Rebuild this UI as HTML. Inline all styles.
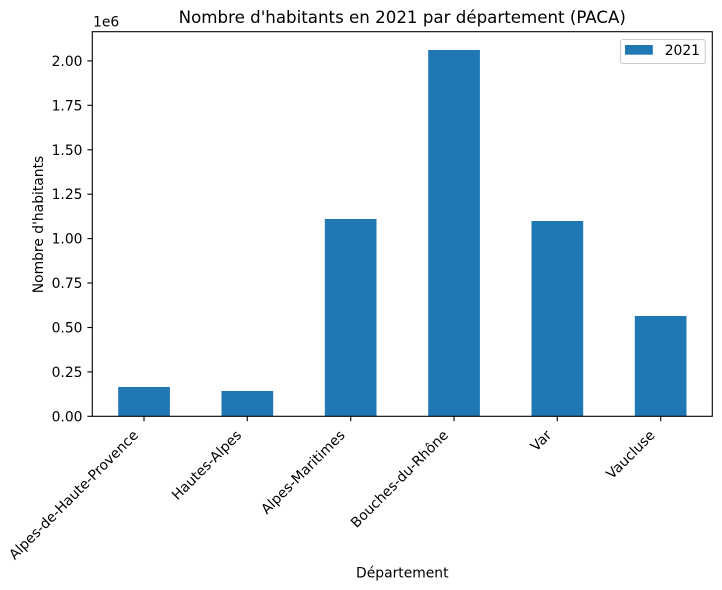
<!DOCTYPE html>
<html>
<head>
<meta charset="utf-8">
<style>
  html, body { margin: 0; padding: 0; background: #ffffff; }
  svg { display: block; font-family: "DejaVu Sans", "Liberation Sans", sans-serif; }
</style>
</head>
<body>
<svg width="722" height="590" viewBox="0 0 722 590" xmlns="http://www.w3.org/2000/svg">
  <rect x="0" y="0" width="722" height="590" fill="#ffffff"/>

  <!-- Title -->
  <text x="402.3" y="23" font-size="16.67" text-anchor="middle" fill="#000">Nombre d'habitants en 2021 par département (PACA)</text>

  <!-- Bars -->
  <g fill="#1f77b4">
    <rect x="118.2" y="387.0" width="51.7" height="29.3"/>
    <rect x="221.5" y="391.0" width="51.7" height="25.3"/>
    <rect x="324.8" y="219.0" width="51.7" height="197.3"/>
    <rect x="428.2" y="50.0" width="51.7" height="366.3"/>
    <rect x="531.5" y="221.0" width="51.7" height="195.3"/>
    <rect x="634.8" y="316.0" width="51.7" height="100.3"/>
  </g>

  <!-- Spines -->
  <rect x="92.3" y="31.7" width="620" height="384.6" fill="none" stroke="#000" stroke-width="1.1"/>

  <!-- Y ticks -->
  <g stroke="#000" stroke-width="1.1">
    <line x1="87.4" y1="416.3" x2="92.3" y2="416.3"/>
    <line x1="87.4" y1="371.9" x2="92.3" y2="371.9"/>
    <line x1="87.4" y1="327.5" x2="92.3" y2="327.5"/>
    <line x1="87.4" y1="283.0" x2="92.3" y2="283.0"/>
    <line x1="87.4" y1="238.6" x2="92.3" y2="238.6"/>
    <line x1="87.4" y1="194.2" x2="92.3" y2="194.2"/>
    <line x1="87.4" y1="149.8" x2="92.3" y2="149.8"/>
    <line x1="87.4" y1="105.3" x2="92.3" y2="105.3"/>
    <line x1="87.4" y1="60.9" x2="92.3" y2="60.9"/>
  </g>
  <g font-size="13.89" text-anchor="end" fill="#000">
    <text x="82.5" y="421.3">0.00</text>
    <text x="82.5" y="376.9">0.25</text>
    <text x="82.5" y="332.5">0.50</text>
    <text x="82.5" y="288.0">0.75</text>
    <text x="82.5" y="243.6">1.00</text>
    <text x="82.5" y="199.2">1.25</text>
    <text x="82.5" y="154.8">1.50</text>
    <text x="82.5" y="110.3">1.75</text>
    <text x="82.5" y="65.9">2.00</text>
  </g>
  <text x="93" y="26.5" font-size="13.89" fill="#000">1e6</text>

  <!-- Y label -->
  <text transform="translate(43,224.5) rotate(-90)" font-size="13.89" text-anchor="middle" fill="#000">Nombre d'habitants</text>

  <!-- X ticks -->
  <g stroke="#000" stroke-width="1.1">
    <line x1="144.0" y1="416.3" x2="144.0" y2="421.2"/>
    <line x1="247.3" y1="416.3" x2="247.3" y2="421.2"/>
    <line x1="350.7" y1="416.3" x2="350.7" y2="421.2"/>
    <line x1="454.0" y1="416.3" x2="454.0" y2="421.2"/>
    <line x1="557.3" y1="416.3" x2="557.3" y2="421.2"/>
    <line x1="660.7" y1="416.3" x2="660.7" y2="421.2"/>
  </g>
  <g font-size="13.89" text-anchor="end" fill="#000">
    <text transform="translate(139.0,436) rotate(-45)">Alpes-de-Haute-Provence</text>
    <text transform="translate(242.3,436) rotate(-45)">Hautes-Alpes</text>
    <text transform="translate(345.7,436) rotate(-45)">Alpes-Maritimes</text>
    <text transform="translate(449.0,436) rotate(-45)">Bouches-du-Rhône</text>
    <text transform="translate(552.3,436) rotate(-45)">Var</text>
    <text transform="translate(655.7,436) rotate(-45)">Vaucluse</text>
  </g>

  <!-- X label -->
  <text x="402.3" y="577.3" font-size="13.89" text-anchor="middle" fill="#000">Département</text>

  <!-- Legend -->
  <rect x="620.5" y="39.5" width="84.8" height="24" rx="2.5" ry="2.5" fill="#ffffff" fill-opacity="0.8" stroke="#cccccc" stroke-width="1.1"/>
  <rect x="625" y="45" width="27.8" height="9.7" fill="#1f77b4"/>
  <text x="664.7" y="55" font-size="13.89" fill="#000">2021</text>
</svg>
</body>
</html>
